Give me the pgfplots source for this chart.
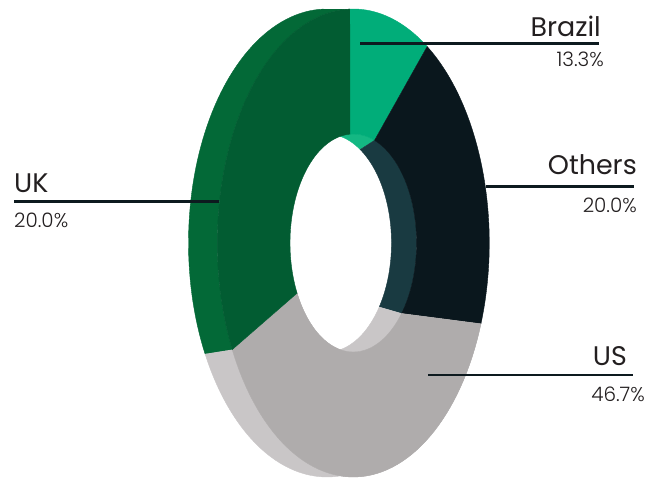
\documentclass[border=0pt]{standalone}
\usepackage{pgfplots}
\pgfplotsset{compat=1.18}
\usepackage{fontspec}
\setmainfont{Poppins}
\newfontfamily\lightfont{Poppins Light}
\definecolor{ukface}{HTML}{025C32}
\definecolor{ukwall}{HTML}{036937}
\definecolor{brface}{HTML}{01AD79}
\definecolor{brwall}{HTML}{14B883}
\definecolor{otface}{HTML}{0A171D}
\definecolor{otwall}{HTML}{193A41}
\definecolor{usface}{HTML}{AFACAC}
\definecolor{uswall}{HTML}{C9C6C7}
\definecolor{txt}{HTML}{231F20}
\definecolor{lead}{HTML}{0D1A1F}
% ellipses (pixel units, y up): front outer, front inner, back outer, back inner
\def\FOx{353.3}\def\FOy{234}\def\FOa{136}\def\FOb{234}
\def\FIx{353.3}\def\FIy{234}\def\FIa{63.3}\def\FIb{109}
\def\BOx{327}\def\BOy{234}\def\BOa{138.5}\def\BOb{234}
\def\BIx{327}\def\BIy{234}\def\BIa{64.5}\def\BIb{109}
% piece: arc on ellipse #2 from #3 to #4, then arc on ellipse #5 from #6 to #7
\newcommand{\piece}[7]{%
 \addplot[#1, domain=0:3, samples=181, variable=\t]
 ({ifthenelse(\t<1.5, \csname#2x\endcsname + \csname#2a\endcsname*cos(#3+(#4-(#3))*min(\t,1)), \csname#5x\endcsname + \csname#5a\endcsname*cos(#6+(#7-(#6))*max(\t-2,0)))},
  {ifthenelse(\t<1.5, \csname#2y\endcsname + \csname#2b\endcsname*sin(#3+(#4-(#3))*min(\t,1)), \csname#5y\endcsname + \csname#5b\endcsname*sin(#6+(#7-(#6))*max(\t-2,0)))});
}
\begin{document}
\begin{tikzpicture}
\begin{axis}[width=646bp, height=477bp, scale only axis, xmin=0, xmax=646, ymin=0, ymax=477, hide axis, clip=false]
\path (axis cs:0,0) rectangle (axis cs:646,477);
% Data: Brazil 13.3, Others 20.0, US 46.7, UK 20.0 (%)
% outer walls
\piece{fill=ukwall, draw=ukwall, line width=0.4bp}{FO}{91.4}{207.1}{BO}{208.3}{91.4}
\piece{fill=uswall, draw=uswall, line width=0.4bp}{FO}{207.1}{339.8}{BO}{339.8}{208.3}
% inner walls
\piece{fill=brwall, draw=brwall, line width=0.4bp}{FI}{70.4}{92.9}{BI}{92.9}{59}
\piece{fill=otwall, draw=otwall, line width=0.4bp}{FI}{-40.3}{70.4}{BI}{59}{-36}
\piece{fill=uswall, draw=uswall, line width=0.4bp}{FI}{207.4}{319.7}{BI}{324}{207.4}
% front faces
\piece{fill=brface, draw=brface, line width=0.4bp}{FO}{57.1}{91.4}{FI}{92.9}{70.4}
\piece{fill=otface, draw=otface, line width=0.4bp}{FO}{-20.2}{57.1}{FI}{70.4}{-40.3}
\piece{fill=usface, draw=usface, line width=0.4bp}{FO}{207.1}{339.8}{FI}{319.7}{207.4}
\piece{fill=ukface, draw=ukface, line width=0.4bp}{FO}{91.4}{207.1}{FI}{207.4}{92.9}
% leader lines
\addplot[lead, line width=2.6bp] coordinates {(360,433.5) (599,433.5)};
\addplot[lead, line width=2.6bp] coordinates {(486,290.3) (634,290.3)};
\addplot[lead, line width=2.6bp] coordinates {(14,275.3) (219,275.3)};
\addplot[lead, line width=2.6bp] coordinates {(428,102) (633,102)};
% labels
\node[anchor=base east, inner sep=0, text=txt, font=\fontsize{27}{27}\selectfont] at (axis cs:601,440) {Brazil};
\node[anchor=base east, inner sep=0, text=txt, font=\lightfont\fontsize{20}{20}\selectfont] at (axis cs:604,410) {13.3\%};
\node[anchor=base east, inner sep=0, text=txt, font=\fontsize{27}{27}\selectfont] at (axis cs:637,302) {Others};
\node[anchor=base east, inner sep=0, text=txt, font=\lightfont\fontsize{20}{20}\selectfont] at (axis cs:637,265) {20.0\%};
\node[anchor=base west, inner sep=0, text=txt, font=\fontsize{27}{27}\selectfont] at (axis cs:14,284) {UK};
\node[anchor=base west, inner sep=0, text=txt, font=\lightfont\fontsize{20}{20}\selectfont] at (axis cs:14,250) {20.0\%};
\node[anchor=base east, inner sep=0, text=txt, font=\fontsize{27}{27}\selectfont] at (axis cs:627,112) {US};
\node[anchor=base east, inner sep=0, text=txt, font=\lightfont\fontsize{20}{20}\selectfont] at (axis cs:645,76) {46.7\%};
\end{axis}
\end{tikzpicture}
\end{document}
